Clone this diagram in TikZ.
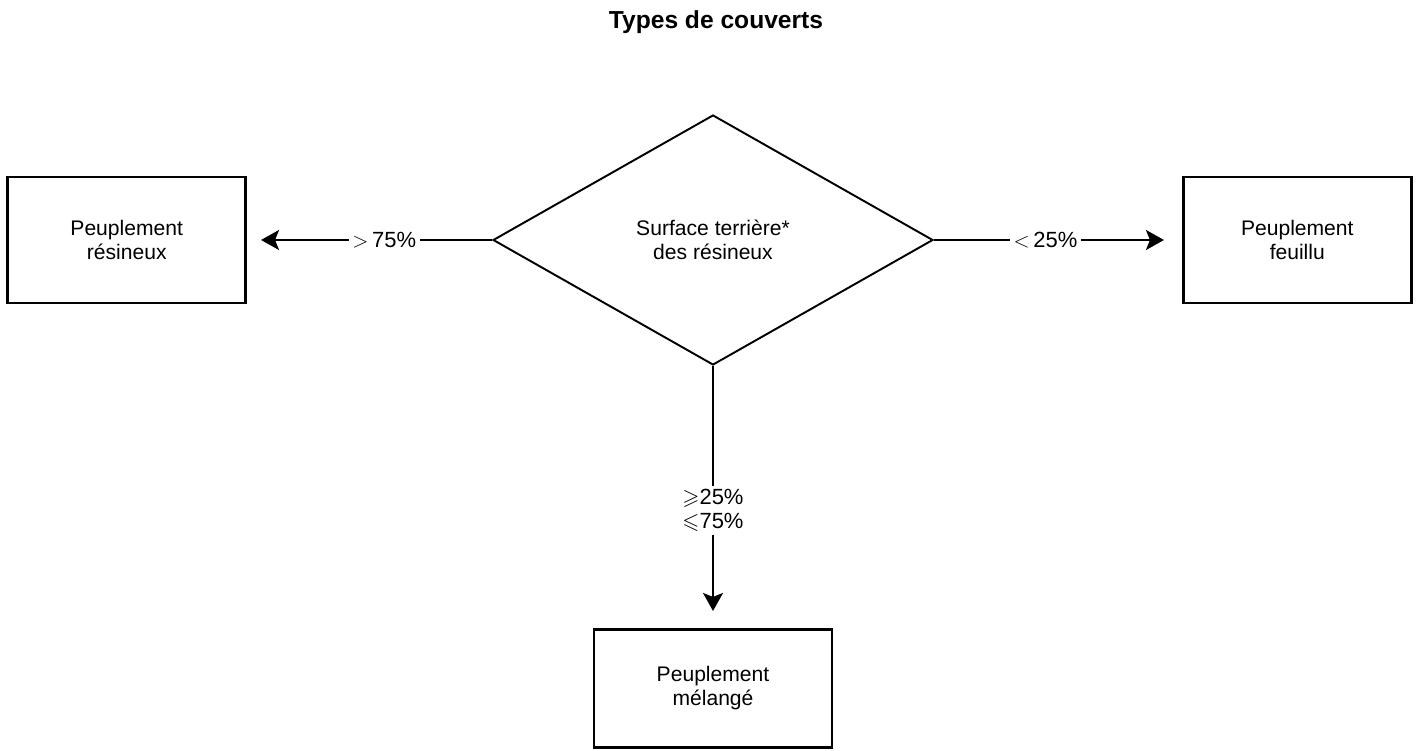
\documentclass[tikz,border=0pt]{standalone}
\usepackage{amssymb}
\usepackage{fontspec}
\setmainfont{Liberation Sans}
\usetikzlibrary{positioning, shapes.geometric, arrows.meta}
\tikzset{
->, % all connectors are directed
>={Stealth[length=0.36cm, width=0.4cm, inset=0.08cm]}, % filled arrow heads
node distance=4.9cm, % gap between the test and the result boxes
outcome/.style={draw, line width=1.5pt, minimum width=4.76cm, minimum height=2.52cm, align=center, font=\fontsize{12}{13.5}\selectfont}, % result boxes
test/.style={draw, diamond, line width=1.1pt, aspect=1.76, minimum width=8.8cm, minimum height=5.0cm, inner sep=0pt, align=center, font=\fontsize{12}{13.5}\selectfont}, % the decision
cut/.style={fill=white, inner sep=2pt, font=\fontsize{12.5}{13.5}\selectfont}, % labels on the lines
}

\begin{document}
\begin{tikzpicture}
\useasboundingbox (0,0) rectangle (28.52,-15.02);
\node[font=\bfseries\fontsize{14}{16}\selectfont] (title) at (14.32,-0.44) {Types de couverts};
\node[test] (surf) at (14.26,-4.8) {Surface terri\`ere*\\des r\'esineux};
\node[outcome, left=of surf] (res) {Peuplement\\r\'esineux};
\node[outcome, right=4.96cm of surf, minimum width=4.56cm] (feu) {Peuplement\\feuillu};
\node[outcome, below=5.24cm of surf, minimum height=2.36cm] (mel) {Peuplement\\m\'elang\'e};
\draw[line width=1.1pt, shorten >=0.28cm] (surf.west) -- node[cut, pos=0.44]{$>$\,75\%} (res.east);
\draw[line width=1.1pt, shorten >=0.36cm] (surf.east) -- node[cut, pos=0.45]{$<$\,25\%} (feu.west);
\draw[line width=1.1pt, shorten >=0.34cm] (surf.south) -- node[cut, pos=0.55, align=center, inner sep=2pt]{$\geqslant$25\%\\$\leqslant$75\%} (mel.north);
\end{tikzpicture}
\end{document}
